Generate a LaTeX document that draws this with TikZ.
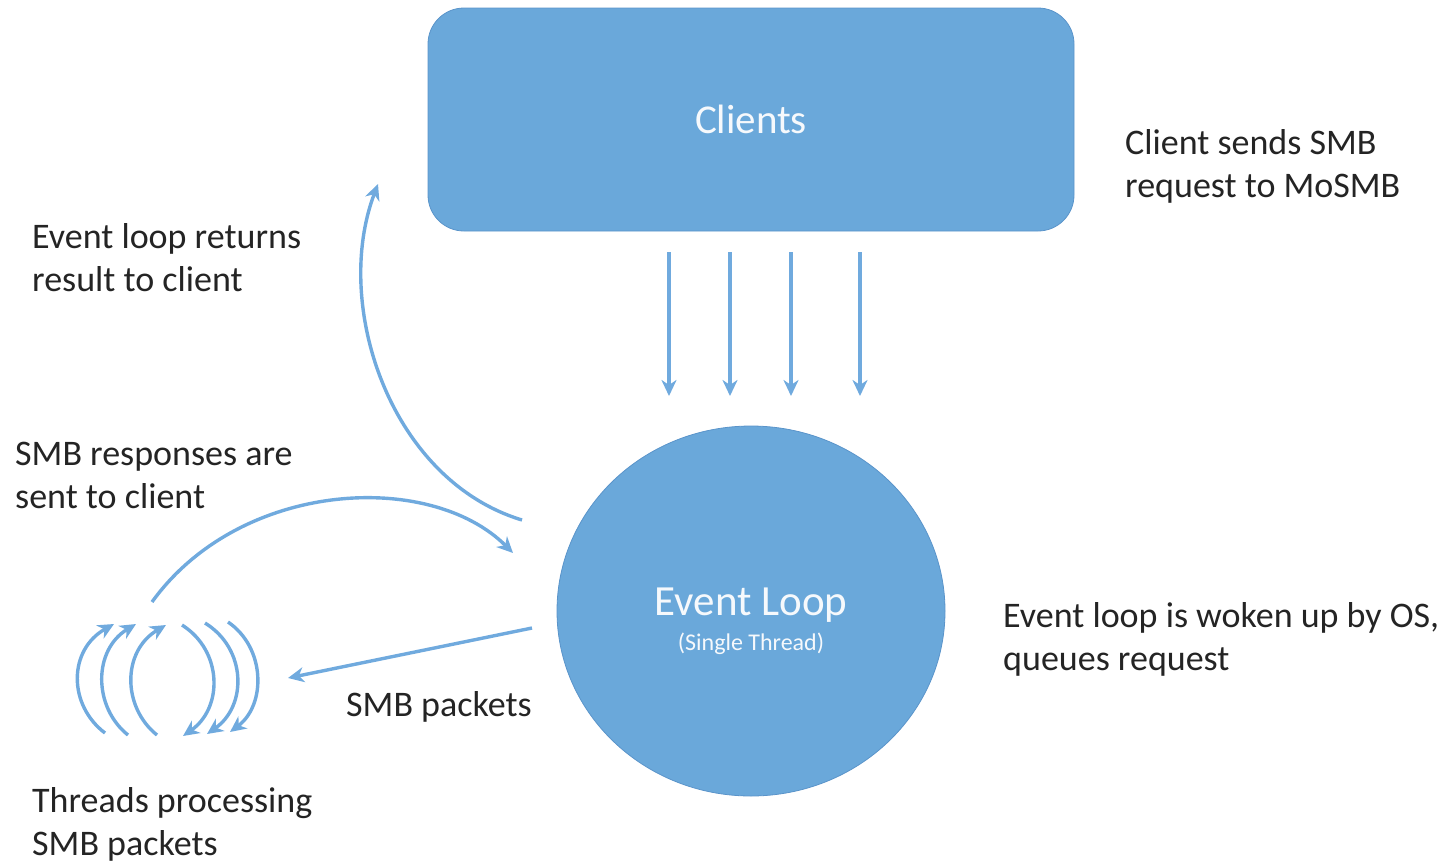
\documentclass[tikz,border=0pt]{standalone}
\usepackage{fontspec}
\setmainfont{Carlito}
\usetikzlibrary{arrows.meta,shapes.geometric}
\definecolor{boxblue}{RGB}{106,168,218}
\definecolor{boxedge}{RGB}{90,148,202}
\definecolor{flowblue}{RGB}{112,170,222}
\definecolor{ink}{RGB}{36,36,36}
\definecolor{paper}{RGB}{246,249,252}
\begin{document}
\begin{tikzpicture}[x=1pt,y=-1pt,
  tip/.style={-{Stealth[length=16pt,width=15pt,inset=5pt]}},
  flow/.style={draw=flowblue, line width=3.4pt, tip},
  spin/.style={draw=flowblue, line width=3.4pt},
  note/.style={font=\fontsize{36}{42.5}\selectfont, text=ink, align=left,
    inner sep=0pt, anchor=base west},
  shapefill/.style={fill=boxblue, draw=boxedge, line width=0.8pt}]
\useasboundingbox (0,0) rectangle (1447,865);

% Clients box
\node[shapefill, rectangle, rounded corners=36pt, minimum width=646pt,
  minimum height=223pt, inner sep=0pt, text=paper,
  font=\fontsize{41}{48}\selectfont] (clients) at (751,119.5) {Clients};

% Event loop
\node[shapefill, ellipse, minimum width=388pt, minimum height=370pt,
  inner sep=0pt] (loop) at (751,611) {};
\node[anchor=base, inner sep=0pt, text=paper,
  font=\fontsize{43}{50}\selectfont] (looptitle) at (751,615) {Event Loop};
\node[anchor=base, inner sep=0pt, text=paper,
  font=\fontsize{24}{28}\selectfont] (loopsub) at (751,650) {(Single Thread)};

% requests coming down from the clients
\foreach \i/\x in {1/669,2/730,3/791,4/860} {
  \coordinate (req\i a) at (\x,252);
  \coordinate (req\i b) at (\x,396);
  \draw[flow] (req\i a) -- (req\i b);
}

% result back to the client
\coordinate (retA) at (522,520);
\coordinate (retB) at (378,184);
\draw[flow] (retA) .. controls (390,480) and (332,305) .. (retB);

% responses from the threads into the loop
\coordinate (respA) at (152,602);
\coordinate (respB) at (513,553);
\draw[flow] (respA) .. controls (240,480) and (430,470) .. (respB);

% packets handed to the threads
\coordinate (pktA) at (532,628);
\coordinate (pktB) at (288,678);
\draw[flow] (pktA) -- (pktB);

% threads turning
\draw[spin, tip] (105,733) .. controls (68,705) and (68,650) .. (114,624);
\draw[spin, tip] (128,735) .. controls (93,707) and (93,650) .. (136,624);
\draw[spin, tip] (157,735) .. controls (122,707) and (122,651) .. (166,625);
\draw[spin, tip] (182,625) .. controls (223,651) and (223,708) .. (183,736);
\draw[spin, tip] (205,623) .. controls (247,649) and (247,706) .. (207,734);
\draw[spin, tip] (228,622) .. controls (266,648) and (266,705) .. (230,732);

% captions (multi-line captions sit on the baseline of their last line)
\node[note] (capreq) at (1125,197) {Client sends SMB\\request to MoSMB};
\node[note] (capret) at (32,291) {Event loop returns\\result to client};
\node[note] (capresp) at (15,508) {SMB responses are\\sent to client};
\node[note] (capwake) at (1003,670) {Event loop is woken up by OS,\\queues request};
\node[note] (cappkt) at (346,716) {SMB packets};
\node[note] (capthr) at (32,855) {Threads processing\\SMB packets};
\end{tikzpicture}
\end{document}
